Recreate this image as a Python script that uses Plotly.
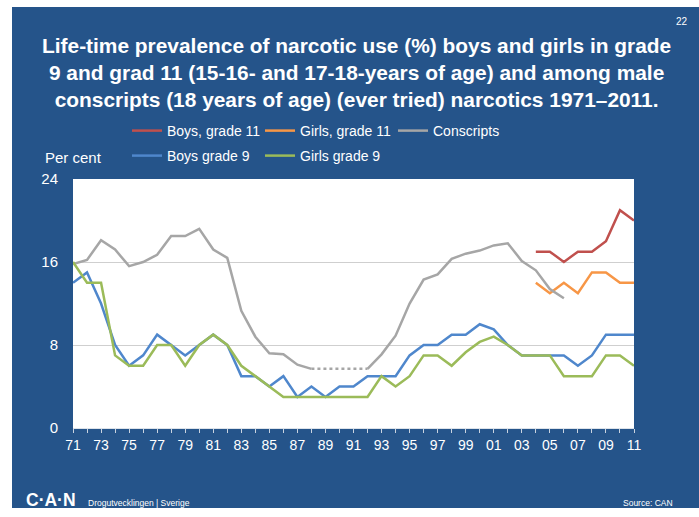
import plotly.graph_objects as go

# ---------------- data ----------------
years = list(range(1971, 2012))
tick_labels = ["71", "", "73", "", "75", "", "77", "", "79", "", "81", "", "83", "", "85", "", "87", "", "89", "",
               "91", "", "93", "", "95", "", "97", "", "99", "", "01", "", "03", "", "05", "", "07", "", "09", "", "11"]

# Conscripts 1971-2006 (1989-1991 missing)
conscripts = [15.8, 16.2, 18.1, 17.2, 15.6, 16.0, 16.7, 18.5, 18.5, 19.2,
              17.2, 16.4, 11.3, 8.8, 7.2, 7.1, 6.1, 5.7, None, None,
              None, 5.7, 7.1, 8.9, 12.0, 14.3, 14.8, 16.3, 16.8, 17.1,
              17.6, 17.8, 16.1, 15.2, 13.4, 12.5, None, None, None, None, None]

boys_g9 = [14, 15, 12, 8, 6, 7, 9, 8, 7, 8,
           9, 8, 5, 5, 4, 5, 3, 4, 3, 4,
           4, 5, 5, 5, 7, 8, 8, 9, 9, 10,
           9.5, 8, 7, 7, 7, 7, 6, 7, 9, 9, 9]

girls_g9 = [16, 14, 14, 7, 6, 6, 8, 8, 6, 8,
            9, 8, 6, 5, 4, 3, 3, 3, 3, 3,
            3, 3, 5, 4, 5, 7, 7, 6, 7.3, 8.3,
            8.8, 8, 7, 7, 7, 5, 5, 5, 7, 7, 6]

g11_years = list(range(2004, 2012))
boys_g11 = [17, 17, 16, 17, 17, 18, 21, 20]
girls_g11 = [14, 13, 14, 13, 15, 15, 14, 14]

# ---------------- geometry helpers ----------------
W, H = 699, 517
L, R, T, B = 73, 65, 179, 89
PW, PH = W - L - R, H - T - B


def px(x):
    return (x - L) / PW


def py(y):
    return (H - B - y) / PH


BLUE_BG = "#25548A"
C_RED = "#C0504D"
C_ORANGE = "#F79646"
C_GRAY = "#A6A6A6"
C_BLUE = "#4F87CC"
C_GREEN = "#9BBB59"
FONT = "Liberation Sans, Arial, sans-serif"

fig = go.Figure()

# row 1 legend traces
fig.add_trace(go.Scatter(x=g11_years, y=boys_g11, mode="lines", name="Boys, grade 11",
                         line=dict(color=C_RED, width=2.5), legend="legend"))
fig.add_trace(go.Scatter(x=g11_years, y=girls_g11, mode="lines", name="Girls, grade 11",
                         line=dict(color=C_ORANGE, width=2.5), legend="legend"))
fig.add_trace(go.Scatter(x=years, y=conscripts, mode="lines", name="Conscripts",
                         line=dict(color=C_GRAY, width=2.5), legend="legend"))
# dotted connector across the missing conscripts years
i0, i1 = years.index(1988), years.index(1992)
fig.add_trace(go.Scatter(x=[years[i0], years[i1]], y=[conscripts[i0], conscripts[i1]], mode="lines",
                         line=dict(color=C_GRAY, width=2.5, dash="dot"), showlegend=False,
                         hoverinfo="skip"))
# row 2 legend traces
fig.add_trace(go.Scatter(x=years, y=boys_g9, mode="lines", name="Boys grade 9",
                         line=dict(color=C_BLUE, width=2.5), legend="legend2"))
fig.add_trace(go.Scatter(x=years, y=girls_g9, mode="lines", name="Girls grade 9",
                         line=dict(color=C_GREEN, width=2.5), legend="legend2"))

legend_common = dict(orientation="h", xanchor="left", yanchor="middle",
                     bgcolor="rgba(0,0,0,0)", borderwidth=0,
                     font=dict(family=FONT, size=14, color="white"),
                     entrywidth=88, entrywidthmode="pixels", itemwidth=30)

fig.update_layout(
    width=W, height=H,
    margin=dict(l=L, r=R, t=T, b=B),
    paper_bgcolor=BLUE_BG,
    plot_bgcolor="white",
    font=dict(family=FONT, color="white"),
    legend=dict(x=px(127), y=py(131), **legend_common),
    legend2=dict(x=px(127), y=py(156), **legend_common),
    xaxis=dict(range=[1971, 2011], tickvals=years, ticktext=tick_labels,
               ticks="outside", ticklen=4, tickcolor="#C9D3E0", tickwidth=1,
               showline=True, linecolor="#DDE3EA", linewidth=1,
               showgrid=False, zeroline=False,
               tickfont=dict(family=FONT, size=14, color="white")),
    yaxis=dict(range=[0, 24], tickvals=[0, 8, 16, 24], showgrid=True,
               gridcolor="#CFCFCF", gridwidth=1, zeroline=False,
               ticks="", ticklabelstandoff=14,
               tickfont=dict(family=FONT, size=15, color="white")),
    showlegend=True,
)

# white edges of the slide
for x0, y0, x1, y1 in [(0, 0, 12, H), (0, 0, W, 7), (0, 508, W, H)]:
    fig.add_shape(type="rect", xref="paper", yref="paper",
                  x0=px(x0), x1=px(x1), y0=py(y1), y1=py(y0),
                  fillcolor="white", line_width=0, layer="below")

annotations = [
    dict(text="<b>Life-time prevalence of narcotic use (%) boys and girls in grade<br>"
              "9 and grad 11 (15-16- and 17-18-years of age) and among male<br>"
              "conscripts (18 years of age) (ever tried) narcotics 1971–2011.</b>",
         x=px(356), y=py(72), xanchor="center", yanchor="middle",
         font=dict(family=FONT, size=20.9, color="white")),
    dict(text="22", x=px(682), y=py(22), xanchor="center", yanchor="middle",
         font=dict(family=FONT, size=10, color="white")),
    dict(text="Per cent", x=px(43), y=py(157), xanchor="left", yanchor="middle",
         font=dict(family=FONT, size=15, color="white")),
    dict(text="<b>C·A·N</b>", x=px(24), y=py(500), xanchor="left", yanchor="middle",
         font=dict(family=FONT, size=17.5, color="white")),
    dict(text="Drogutvecklingen | Sverige", x=px(86), y=py(503), xanchor="left", yanchor="middle",
         font=dict(family=FONT, size=8.5, color="white")),
    dict(text="Source: CAN", x=px(675), y=py(503), xanchor="right", yanchor="middle",
         font=dict(family=FONT, size=8.5, color="white")),
]
for a in annotations:
    fig.add_annotation(xref="paper", yref="paper", showarrow=False, align="center", **a)

fig.write_html("out.html", config={"displayModeBar": False},
               post_script="document.body.style.margin='0';")
